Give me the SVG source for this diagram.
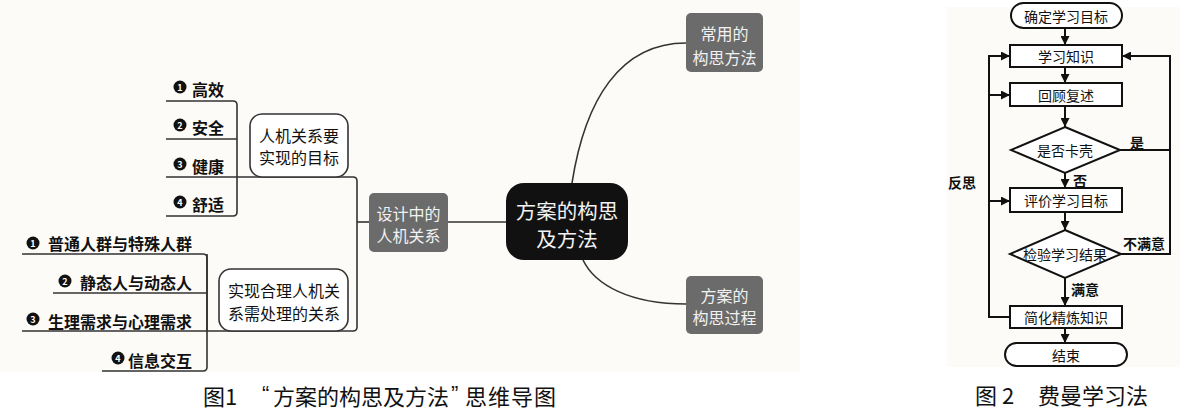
<svg xmlns="http://www.w3.org/2000/svg" width="1200" height="420" viewBox="0 0 1200 420">
<style>
text{font-family:"Noto Sans CJK SC","Noto Sans",sans-serif;fill:#111}
.leaf{font-size:16px;font-weight:bold;dominant-baseline:central}
.num{font-size:9px;font-weight:bold;fill:#fff;text-anchor:middle;dominant-baseline:central}
.bul{fill:#111}
.mm{fill:none;stroke:#333;stroke-width:1.6}
.wbox{fill:#fff;stroke:#333;stroke-width:1.6}
.gbox{fill:#6b6b6b}
.wt{fill:#f2f2f2;font-size:16px;text-anchor:middle;dominant-baseline:central}
.bt{font-size:16px;text-anchor:middle;dominant-baseline:central}
.fc{fill:#fff;stroke:#111;stroke-width:2}
.fl{fill:none;stroke:#111;stroke-width:2}
.ft{font-size:14px;text-anchor:middle;dominant-baseline:central}
.lb{font-size:14px;font-weight:bold;text-anchor:middle;dominant-baseline:central}
.cap{font-size:22px;dominant-baseline:central}
.q{font-family:"Liberation Sans",Arial,sans-serif}
</style>
<defs>
<marker id="ah" markerUnits="userSpaceOnUse" markerWidth="9" markerHeight="9" refX="9" refY="4.5" orient="auto">
<path d="M0,0 L9,4.5 L0,9 z" fill="#111"/>
</marker>
</defs>
<rect x="0" y="0" width="1200" height="420" fill="#ffffff"/>
<rect x="0" y="0" width="800" height="372" fill="#fcfbf8"/>
<rect x="947" y="7" width="233" height="360" fill="#fcfbf7"/>

<g id="connectors">
<path class="mm" d="M166,101 H233 Q237,101 237,105 V212 Q237,216 233,216 H166"/>
<path class="mm" d="M166,139 H237"/>
<path class="mm" d="M166,177 H353 Q357,177 357,181 V327 Q357,331 353,331 H22"/>
<path class="mm" d="M22,254 H203 Q207,254 207,258 V367 Q207,371 203,371 H102"/>
<path class="mm" d="M53,293 H207"/>
<path class="mm" d="M207,331 V254"/>
<path class="mm" d="M357,222 H369"/>
<path class="mm" d="M448,222 H506"/>
<path class="mm" d="M572,183 C585,100 620,43 686,43"/>
<path class="mm" d="M583,260 C595,285 630,304 686,304"/>

<path class="fl" d="M1065,28 V45" marker-end="url(#ah)"/>
<path class="fl" d="M1065,66 V83" marker-end="url(#ah)"/>
<path class="fl" d="M1065,106 V127" marker-end="url(#ah)"/>
<path class="fl" d="M1065,173 V188" marker-end="url(#ah)"/>
<path class="fl" d="M1065,212 V230" marker-end="url(#ah)"/>
<path class="fl" d="M1065,278 V306" marker-end="url(#ah)"/>
<path class="fl" d="M1065,328 V343" marker-end="url(#ah)"/>
<path class="fl" d="M1121,254 H1170 V56 H1122" marker-end="url(#ah)"/>
<path class="fl" d="M1120,150 H1170"/>
<path class="fl" d="M1010,317 H989 V56 H1010" marker-end="url(#ah)"/>
<path class="fl" d="M989,95 H1010" marker-end="url(#ah)"/>
<path class="fl" d="M989,201 H1010" marker-end="url(#ah)"/>
<text class="lb" x="1137" y="142">是</text>
<text class="lb" x="1080" y="180">否</text>
<text class="lb" x="962" y="182">反思</text>
<text class="lb" x="1144" y="243">不满意</text>
<text class="lb" x="1085" y="289">满意</text>
</g>

<g id="leaf-gaoxiao"><circle class="bul" cx="180" cy="87" r="6.5"/><text class="num" x="180" y="87">1</text><text class="leaf" x="192" y="89">高效</text></g>
<g id="leaf-anquan"><circle class="bul" cx="180" cy="125" r="6.5"/><text class="num" x="180" y="125">2</text><text class="leaf" x="192" y="127">安全</text></g>
<g id="leaf-jiankang"><circle class="bul" cx="180" cy="164" r="6.5"/><text class="num" x="180" y="164">3</text><text class="leaf" x="192" y="166">健康</text></g>
<g id="leaf-shushi"><circle class="bul" cx="180" cy="202" r="6.5"/><text class="num" x="180" y="202">4</text><text class="leaf" x="192" y="204">舒适</text></g>

<g id="leaf-putong"><circle class="bul" cx="33" cy="243" r="6.5"/><text class="num" x="33" y="243">1</text><text class="leaf" x="192" y="242.5" text-anchor="end">普通人群与特殊人群</text></g>
<g id="leaf-jingtai"><circle class="bul" cx="65" cy="281" r="6.5"/><text class="num" x="65" y="281">2</text><text class="leaf" x="192" y="281.5" text-anchor="end">静态人与动态人</text></g>
<g id="leaf-shengli"><circle class="bul" cx="33" cy="319" r="6.5"/><text class="num" x="33" y="319">3</text><text class="leaf" x="192" y="320.5" text-anchor="end">生理需求与心理需求</text></g>
<g id="leaf-xinxi"><circle class="bul" cx="118" cy="358" r="6.5"/><text class="num" x="118" y="358">4</text><text class="leaf" x="192" y="359.5" text-anchor="end">信息交互</text></g>

<g id="node-goal"><rect class="wbox" x="250" y="114" width="98" height="63" rx="12"/><text class="bt" x="299" y="135">人机关系要</text><text class="bt" x="299" y="157">实现的目标</text></g>
<g id="node-relation"><rect class="wbox" x="219" y="269" width="129" height="62" rx="12"/><text class="bt" x="284" y="290">实现合理人机关</text><text class="bt" x="284" y="313">系需处理的关系</text></g>
<g id="node-design"><rect class="gbox" x="369" y="193" width="79" height="59" rx="5"/><text class="wt" x="408.5" y="213">设计中的</text><text class="wt" x="408.5" y="235">人机关系</text></g>
<g id="node-center"><rect x="506" y="183" width="122" height="77" rx="18" fill="#111"/><text class="wt" style="font-size:20.5px" x="567" y="210">方案的构思</text><text class="wt" style="font-size:20.5px" x="567" y="238">及方法</text></g>
<g id="node-common"><rect class="gbox" x="686" y="13" width="77" height="59" rx="5"/><text class="wt" x="724.5" y="33">常用的</text><text class="wt" x="724.5" y="57">构思方法</text></g>
<g id="node-process"><rect class="gbox" x="686" y="276" width="77" height="58" rx="5"/><text class="wt" x="724.5" y="295">方案的</text><text class="wt" x="724.5" y="317">构思过程</text></g>

<g id="fc-start"><rect class="fc" x="1011" y="3" width="111" height="25" rx="12.5"/><text class="ft" x="1066" y="16">确定学习目标</text></g>
<g id="fc-learn"><rect class="fc" x="1010" y="45" width="112" height="22"/><text class="ft" x="1066" y="56">学习知识</text></g>
<g id="fc-review"><rect class="fc" x="1010" y="83" width="112" height="23"/><text class="ft" x="1066" y="94.5">回顾复述</text></g>
<g id="fc-stuck"><polygon class="fc" points="1065,127 1120,150 1065,173 1011,150"/><text class="ft" x="1065" y="150">是否卡壳</text></g>
<g id="fc-eval"><rect class="fc" x="1010" y="188" width="112" height="24"/><text class="ft" x="1066" y="200">评价学习目标</text></g>
<g id="fc-check"><polygon class="fc" points="1065,230 1121,254 1065,278 1010,254"/><text class="ft" x="1065" y="254">检验学习结果</text></g>
<g id="fc-simplify"><rect class="fc" x="1010" y="306" width="112" height="22"/><text class="ft" x="1066" y="317">简化精炼知识</text></g>
<g id="fc-end"><rect class="fc" x="1005" y="343" width="122" height="23" rx="11.5"/><text class="ft" x="1066" y="354.5">结束</text></g>

<g id="captions">
<text class="cap" x="203" y="395">图1</text>
<text class="cap q" x="262" y="393">“</text>
<text class="cap" x="273" y="395">方案的构思及方法</text>
<text class="cap q" x="451" y="393">”</text>
<text class="cap" x="465" y="395" letter-spacing="1">思维导图</text>
<text class="cap" x="975" y="394">图 2</text>
<text class="cap" x="1038" y="394">费曼学习法</text>
</g>
</svg>
